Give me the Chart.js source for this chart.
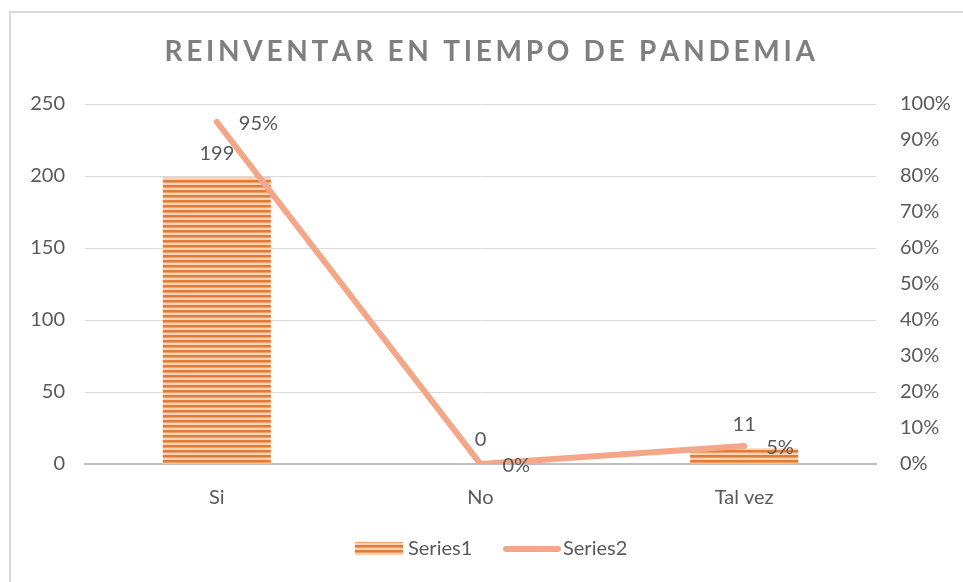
<!DOCTYPE html>
<html>
<head>
<meta charset="utf-8">
<script src="https://cdn.jsdelivr.net/npm/chart.js@4.4.1/dist/chart.umd.min.js"></script>
<style>
  html, body { margin: 0; padding: 0; background: #fff; }
  #wrap { width: 963px; height: 582px; position: relative; }
</style>
</head>
<body>
<div id="wrap"><canvas id="chart" width="963" height="582"></canvas></div>
<script>
// chart data
const categories = ['Si', 'No', 'Tal vez'];
const series1 = [199, 0, 11];
const series2 = [0.95, 0, 0.05];
const leftTicks = [0, 50, 100, 150, 200, 250];
const chartTitle = 'REINVENTAR EN TIEMPO DE PANDEMIA';
const legendNames = ['Series1', 'Series2'];

const FONT = 'Lato, "Open Sans", sans-serif';
const TEXT = '#595959';
const LINE_COLOR = '#F4A788';

// striped fill for the bars
function makeStripes() {
  const c = document.createElement('canvas');
  c.width = 4; c.height = 5;
  const g = c.getContext('2d');
  g.fillStyle = '#E27B36'; g.fillRect(0, 0, 4, 2);
  g.fillStyle = '#EE9F66'; g.fillRect(0, 2, 4, 1);
  g.fillStyle = '#F9D3B6'; g.fillRect(0, 3, 4, 2);
  return g.createPattern(c, 'repeat');
}

const ctx = document.getElementById('chart').getContext('2d');
const stripes = makeStripes();

// frame, title, data labels and legend
const decorPlugin = {
  id: 'decor',
  beforeDraw(chart) {
    const c = chart.ctx;
    c.save();
    c.strokeStyle = '#d9d9d9';
    c.lineWidth = 2;
    c.strokeRect(10, 12, 970, 590);
    c.restore();
  },
  afterDatasetsDraw(chart) {
    const c = chart.ctx;
    c.save();

    // title with wide letter spacing
    c.font = 'bold 28px ' + FONT;
    c.fillStyle = '#7F7F7F';
    c.textBaseline = 'middle';
    c.textAlign = 'left';
    const chars = chartTitle.split('');
    const raw = c.measureText(chartTitle).width;
    const targetW = 647;
    const gap = (targetW - raw) / (chars.length - 1);
    let x = 488 - targetW / 2;
    chars.forEach(ch => {
      c.fillText(ch, x, 52);
      x += c.measureText(ch).width + gap;
    });

    // bar labels
    c.font = '20px ' + FONT;
    c.fillStyle = TEXT;
    c.textAlign = 'center';
    const barMeta = chart.getDatasetMeta(0);
    barMeta.data.forEach((el, i) => {
      c.fillText(String(series1[i]), el.x, el.y - 24);
    });

    // line labels
    c.textAlign = 'left';
    const lineMeta = chart.getDatasetMeta(1);
    lineMeta.data.forEach((el, i) => {
      c.fillText(Math.round(series2[i] * 100) + '%', el.x + 22, el.y + 2);
    });

    // legend
    const ly = 549;
    c.fillStyle = stripes;
    c.fillRect(355, ly - 7, 48, 13);
    c.fillStyle = TEXT;
    c.fillText(legendNames[0], 408, ly);
    c.strokeStyle = LINE_COLOR;
    c.lineWidth = 6;
    c.lineCap = 'round';
    c.beginPath();
    c.moveTo(506, ly);
    c.lineTo(558, ly);
    c.stroke();
    c.fillText(legendNames[1], 563, ly);

    c.restore();
  }
};

new Chart(ctx, {
  type: 'bar',
  data: {
    labels: categories,
    datasets: [
      {
        type: 'bar',
        label: legendNames[0],
        data: series1,
        backgroundColor: stripes,
        borderWidth: 0,
        categoryPercentage: 1,
        barPercentage: 0.41,
        yAxisID: 'y',
        order: 2
      },
      {
        type: 'line',
        label: legendNames[1],
        data: series2,
        borderColor: LINE_COLOR,
        borderWidth: 6,
        borderCapStyle: 'round',
        borderJoinStyle: 'round',
        pointRadius: 0,
        tension: 0,
        yAxisID: 'y1',
        order: 1
      }
    ]
  },
  options: {
    responsive: false,
    animation: false,
    layout: { padding: { top: 104, left: 0, right: 0, bottom: 0 } },
    plugins: {
      legend: { display: false },
      title: { display: false },
      tooltip: { enabled: false }
    },
    scales: {
      x: {
        grid: { display: false, drawTicks: false },
        border: { display: true, color: '#BFBFBF', width: 2 },
        ticks: { color: TEXT, font: { family: FONT, size: 20 }, padding: 22 },
        afterFit(scale) { scale.height = 118; }
      },
      y: {
        position: 'left',
        min: 0,
        max: 250,
        afterBuildTicks(scale) { scale.ticks = leftTicks.map(v => ({ value: v })); },
        grid: { color: '#D9D9D9', lineWidth: 1, drawTicks: false },
        border: { display: false },
        ticks: { color: TEXT, font: { family: FONT, size: 20 }, padding: 20 },
        afterFit(scale) { scale.width = 85; }
      },
      y1: {
        position: 'right',
        min: 0,
        max: 1,
        grid: { display: false, drawTicks: false },
        border: { display: false },
        ticks: {
          stepSize: 0.1,
          color: TEXT,
          font: { family: FONT, size: 20 },
          padding: 24,
          callback: v => Math.round(v * 100) + '%'
        },
        afterFit(scale) { scale.width = 87; }
      }
    }
  },
  plugins: [decorPlugin]
});
</script>
</body>
</html>
